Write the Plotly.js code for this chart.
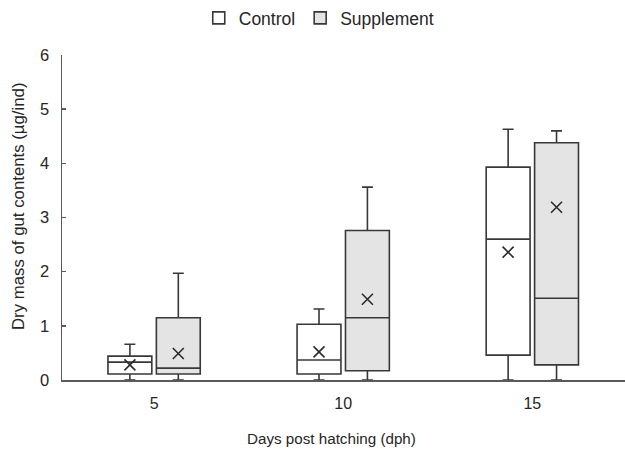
<!DOCTYPE html>
<html>
<head>
<meta charset="utf-8">
<script src="https://cdn.plot.ly/plotly-3.0.1.min.js"></script>
<style>
  html, body { margin: 0; padding: 0; background: #fff; }
  #chart { width: 625px; height: 452px; }
</style>
</head>
<body>
<div id="chart"></div>
<script>
// Days post hatching (x categories)
const days = ['5', '10', '15'];

// Control group: five-number summary and mean (µg/ind)
const controlLower  = [0, 0, 0];
const controlQ1     = [0.11, 0.11, 0.46];
const controlMedian = [0.33, 0.37, 2.60];
const controlQ3     = [0.44, 1.03, 3.93];
const controlUpper  = [0.66, 1.31, 4.63];
const controlMean   = [0.28, 0.52, 2.36];

// Supplement group: five-number summary and mean (µg/ind)
const suppLower  = [0, 0, 0];
const suppQ1     = [0.11, 0.17, 0.28];
const suppMedian = [0.22, 1.15, 1.51];
const suppQ3     = [1.15, 2.76, 4.38];
const suppUpper  = [1.97, 3.56, 4.60];
const suppMean   = [0.49, 1.49, 3.19];

const FONT = 'Liberation Sans, Arial, sans-serif';
const INK = '#262626';
const BOX_LINE = '#383838';

// side-by-side placement within each day category
const idx = days.map((d, i) => i);
const shift = 0.128;
const boxW = 0.232;
const xControl = idx.map(i => i - shift);
const xSupp = idx.map(i => i + shift);

function boxTrace(name, x, lo, q1, med, q3, hi, fill) {
  return {
    type: 'box', name: name, x: x,
    lowerfence: lo, q1: q1, median: med, q3: q3, upperfence: hi,
    width: boxW, whiskerwidth: 0.25,
    fillcolor: fill,
    line: { color: BOX_LINE, width: 1.6 },
    boxpoints: false, hoverinfo: 'skip'
  };
}

function meanTrace(x, y) {
  return {
    type: 'scatter', mode: 'markers', x: x, y: y, showlegend: false,
    marker: { symbol: 'x-thin-open', size: 11, color: '#2a2a2a', line: { color: '#2a2a2a', width: 1.6 } },
    hoverinfo: 'skip'
  };
}

const data = [
  boxTrace('Control', xControl, controlLower, controlQ1, controlMedian, controlQ3, controlUpper, '#ffffff'),
  boxTrace('Supplement', xSupp, suppLower, suppQ1, suppMedian, suppQ3, suppUpper, '#e4e4e4'),
  meanTrace(xControl, controlMean),
  meanTrace(xSupp, suppMean)
];

const layout = {
  width: 625, height: 452,
  margin: { l: 62, r: 0, t: 55, b: 72 },
  paper_bgcolor: '#ffffff', plot_bgcolor: '#ffffff',
  font: { family: FONT, color: INK, size: 16 },
  showlegend: true,
  legend: {
    orientation: 'h', xref: 'container', yref: 'container',
    x: 0.51, xanchor: 'center', y: 1, yanchor: 'top',
    font: { family: FONT, size: 17.5, color: INK },
    itemwidth: 30, tracegroupgap: 0
  },
  xaxis: {
    type: 'linear', range: [-0.487, 2.49],
    tickmode: 'array', tickvals: idx, ticktext: days,
    showgrid: false, zeroline: false,
    showline: true, linecolor: '#5a5a5a', linewidth: 1.5,
    ticks: '', ticklabelstandoff: 8,
    tickfont: { family: FONT, size: 16, color: INK }
  },
  yaxis: {
    range: [0, 6], tickvals: [0, 1, 2, 3, 4, 5, 6],
    showgrid: false, zeroline: false,
    showline: true, linecolor: '#5a5a5a', linewidth: 1.5,
    ticks: 'inside', ticklen: 4, tickwidth: 1.5, tickcolor: '#5a5a5a',
    ticklabelstandoff: 8,
    tickfont: { family: FONT, size: 16.5, color: INK }
  },
  annotations: [
    {
      text: 'Days post hatching (dph)', xref: 'paper', yref: 'paper',
      x: (331 - 62) / 563, y: 0, yshift: -58, xanchor: 'center', yanchor: 'middle',
      showarrow: false, font: { family: FONT, size: 15.2, color: INK }
    },
    {
      text: 'Dry mass of gut contents (µg/ind)', xref: 'paper', yref: 'paper',
      x: 0, xshift: -44, y: (380 - 206) / 325, textangle: -90,
      xanchor: 'center', yanchor: 'middle',
      showarrow: false, font: { family: FONT, size: 16.8, color: INK }
    }
  ]
};

Plotly.newPlot('chart', data, layout, { staticPlot: true, displayModeBar: false });
</script>
</body>
</html>
